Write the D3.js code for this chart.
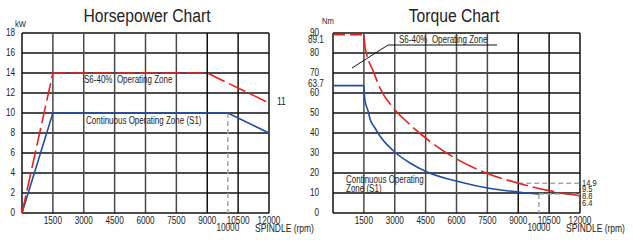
<!DOCTYPE html>
<html>
<head>
<meta charset="utf-8">
<script src="https://cdn.jsdelivr.net/npm/d3@7"></script>
<style>
  body { margin: 0; background: #fff; }
  svg text { font-family: "Liberation Sans", Arial, sans-serif; fill: #222; }
</style>
</head>
<body>
<div id="chart"></div>
<script>
// ---- data ----
const rpmTicks = [1500, 3000, 4500, 6000, 7500, 9000, 10500, 12000];
const kwTicks = [0, 2, 4, 6, 8, 10, 12, 14, 16, 18];
const nmTicks = [0, 10, 20, 30, 40, 50, 60, 70, 80, 90];
const nmExtraTicks = [89.1, 63.7];
const nmRightLabels = ["14.9", "9.5", "8.8", "6.4"];

// horsepower: [rpm, kW]
const hpS6 = [[0, 0], [1500, 14], [9000, 14], [12000, 11]];
const hpS1 = [[0, 0], [1500, 10], [10000, 10], [12000, 8]];

// torque: [rpm, Nm]
const tqS6Flat = [[0, 89.1], [1500, 89.1]];
const tqS6 = [[1500, 89.1], [1560, 83], [1640, 79.2], [1960, 70.8], [2280, 62.5], [2930, 52.5],
  [3600, 45.5], [4500, 37.5], [6000, 27], [7500, 19.8], [9000, 14.9], [10500, 11.2], [12000, 8.6]];
const tqS1 = [[0, 63.7], [1500, 63.7], [1540, 57], [1710, 50.8], [1800, 47], [2040, 42.5],
  [2280, 38.5], [3000, 30.5], [3740, 25], [4570, 20.5], [6170, 15.5], [7500, 12.5],
  [9000, 10.5], [10000, 9.5]];

const red = "#e8201c";
const blue = "#1f4ea6";
const grey = "#a8a8a8";

const svg = d3.select("#chart").append("svg")
  .attr("width", 633)
  .attr("height", 240);

// narrow looking text: squeeze horizontally
function label(g, x, y, txt, size, anchor, sx) {
  return g.append("text")
    .attr("transform", `translate(${x},${y}) scale(${sx || 0.8},1)`)
    .attr("text-anchor", anchor || "start")
    .attr("font-size", size + "px")
    .attr("xml:space", "preserve")
    .text(txt);
}

// draws one panel frame, grid and x labels
function panel(x0, x1, yMax, yTicks) {
  const x = d3.scaleLinear().domain([0, 12000]).range([x0, x1]);
  const y = d3.scaleLinear().domain([0, yMax]).range([213, 33]);
  const g = svg.append("g");

  // horizontal grid
  g.selectAll(".hg").data(yTicks.filter(d => d > 0))
    .enter().append("line")
    .attr("x1", x(0)).attr("x2", x(12000))
    .attr("y1", d => y(d)).attr("y2", d => y(d))
    .attr("stroke", "#111").attr("stroke-width", 1.3);

  // vertical grid
  g.selectAll(".vg").data(rpmTicks)
    .enter().append("line")
    .attr("x1", d => x(d)).attr("x2", d => x(d))
    .attr("y1", y(0)).attr("y2", y(yMax))
    .attr("stroke", d => d < 9000 ? "#4a4a4a" : "#111").attr("stroke-width", 1.5);

  // axes
  g.append("line").attr("x1", x(0)).attr("x2", x(0)).attr("y1", y(0)).attr("y2", y(yMax))
    .attr("stroke", "#111").attr("stroke-width", 1.5);
  g.append("line").attr("x1", x(0)).attr("x2", x(12000)).attr("y1", y(0)).attr("y2", y(0))
    .attr("stroke", "#111").attr("stroke-width", 1.5);

  // x tick labels
  rpmTicks.forEach(d => label(g, x(d), 224, d, 10, "middle", 0.82));
  label(g, x(10000), 231, "10000", 10, "middle", 0.82);
  label(g, x(12000) - 14, 232, "SPINDLE (rpm)", 10, "start", 0.85);

  return { x, y, g };
}

const line = (x, y) => d3.line().x(d => x(d[0])).y(d => y(d[1]));

/* Horsepower */
const hp = panel(22, 269, 18, kwTicks);

kwTicks.forEach(d => label(hp.g, 15, hp.y(d) + 3, d, 10, "end", 0.82));
label(hp.g, 15, 27, "kW", 9, "start", 0.85);
label(hp.g, 147, 22, "Horsepower Chart", 18, "middle", 0.87);

hp.g.append("line")
  .attr("x1", hp.x(10000)).attr("x2", hp.x(10000))
  .attr("y1", hp.y(10)).attr("y2", hp.y(0))
  .attr("stroke", grey).attr("stroke-width", 1.5).attr("stroke-dasharray", "5,3");

hp.g.append("path").datum(hpS1).attr("d", line(hp.x, hp.y))
  .attr("fill", "none").attr("stroke", blue).attr("stroke-width", 1.6);
hp.g.append("path").datum(hpS6).attr("d", line(hp.x, hp.y))
  .attr("fill", "none").attr("stroke", red).attr("stroke-width", 1.6)
  .attr("stroke-dasharray", "18,5");

label(hp.g, 84, 83, "S6-40%  Operating Zone", 10, "start", 0.8);
label(hp.g, 86, 124, "Continuous Operating Zone (S1)", 10, "start", 0.8);
label(hp.g, 277, 105, "11", 10, "start", 0.85);

/* Torque */
const tq = panel(333, 580, 90, nmTicks);

nmTicks.forEach(d => label(tq.g, 319, tq.y(d) + 2.5, d, 10, "end", 0.82));
nmExtraTicks.forEach(d => label(tq.g, 308, tq.y(d) + (d > 80 ? 8.5 : 1), d, 10, "start", 0.82));
label(tq.g, 322, 24, "Nm", 9, "start", 0.85);
label(tq.g, 454, 22, "Torque Chart", 18, "middle", 0.87);

// grey guides
tq.g.append("line")
  .attr("x1", tq.x(9000)).attr("x2", tq.x(12000))
  .attr("y1", tq.y(14.9)).attr("y2", tq.y(14.9))
  .attr("stroke", grey).attr("stroke-width", 1.5).attr("stroke-dasharray", "5,3");
tq.g.append("line")
  .attr("x1", tq.x(10000)).attr("x2", tq.x(12000))
  .attr("y1", tq.y(9.5)).attr("y2", tq.y(9.5))
  .attr("stroke", grey).attr("stroke-width", 1.5).attr("stroke-dasharray", "5,3");
tq.g.append("line")
  .attr("x1", tq.x(10000)).attr("x2", tq.x(10000))
  .attr("y1", tq.y(9.5)).attr("y2", tq.y(0))
  .attr("stroke", grey).attr("stroke-width", 1.5).attr("stroke-dasharray", "5,3");

tq.g.append("path").datum(tqS1).attr("d", line(tq.x, tq.y).curve(d3.curveMonotoneX))
  .attr("fill", "none").attr("stroke", blue).attr("stroke-width", 1.6);
tq.g.append("path").datum(tqS6Flat).attr("d", line(tq.x, tq.y))
  .attr("fill", "none").attr("stroke", red).attr("stroke-width", 1.6)
  .attr("stroke-dasharray", "12,5");
tq.g.append("path").datum(tqS6).attr("d", line(tq.x, tq.y).curve(d3.curveMonotoneX))
  .attr("fill", "none").attr("stroke", red).attr("stroke-width", 1.6)
  .attr("stroke-dasharray", "22,5");

// right-side value labels, tightly stacked
nmRightLabels.forEach((d, i) => label(tq.g, 582, 185.5 + i * 6.7, d, 8.5, "start", 0.88));

// annotations
label(tq.g, 399, 43, "S6-40%  Operating Zone", 10, "start", 0.8);
tq.g.append("polyline")
  .attr("points", "352,68 388,45 497,45")
  .attr("fill", "none").attr("stroke", "#111").attr("stroke-width", 1);
label(tq.g, 346, 183, "Continuous Operating", 10, "start", 0.8);
label(tq.g, 346, 192, "Zone (S1)", 10, "start", 0.8);
</script>
</body>
</html>
